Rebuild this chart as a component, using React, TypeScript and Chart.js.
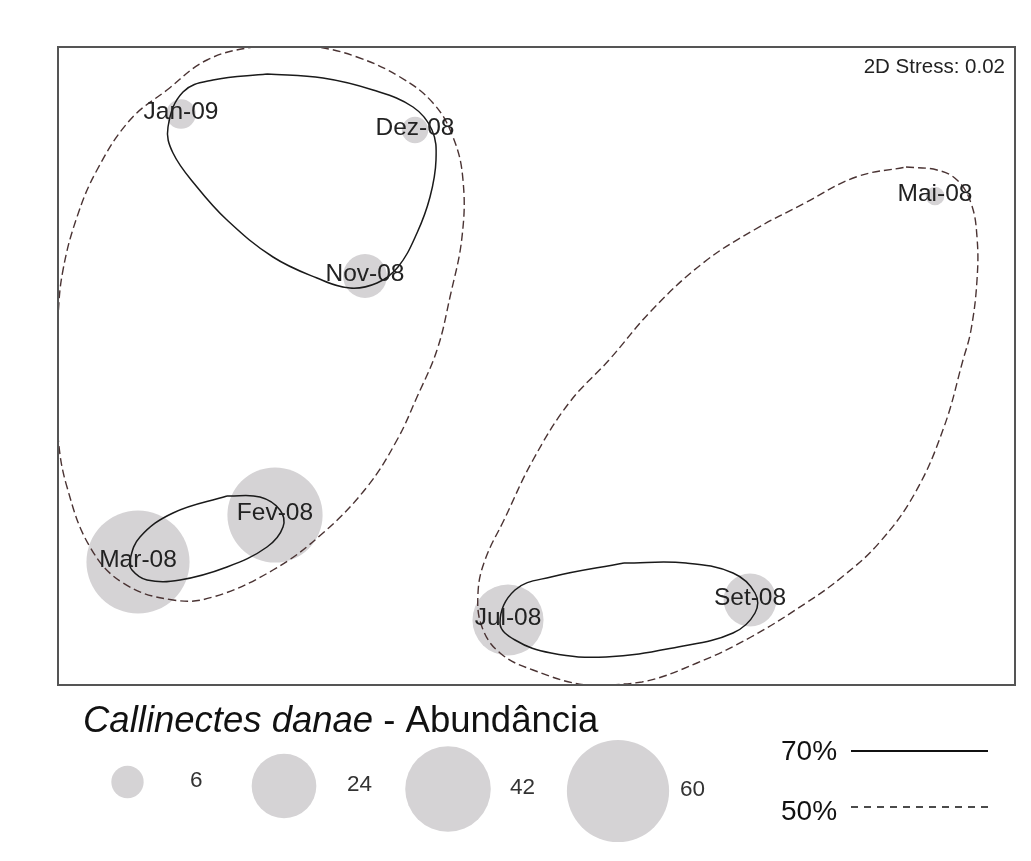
import React, { useEffect, useRef } from "react";
import { Chart, registerables } from "chart.js";

Chart.register(...registerables);

// ---- Data (MDS ordination, arbitrary units) ----
const samples = ["Jan-09", "Dez-08", "Nov-08", "Mai-08", "Fev-08", "Mar-08", "Jul-08", "Set-08"];
const mdsX = [123, 357, 307, 877, 217, 80, 450, 692];
const mdsY = [67, 83, 229, 149, 468, 515, 573, 553];
const abundance = [5, 4, 11, 2, 52, 61, 29, 16];

const legendValues = [6, 24, 42, 60];
const stressText = "2D Stress: 0.02";

// Similarity contours (70% solid, 50% dashed), traced points
const contour70_winter: number[][] = [
  [209, 27], [265, 31], [315, 43], [355, 60], [374, 83], [378, 113], [372, 150], [359, 186],
  [340, 220], [319, 236], [292, 241], [259, 231], [215, 210], [169, 173], [139, 140], [115, 106],
  [110, 80], [125, 45], [155, 33], [209, 27],
];
const contour70_summer: number[][] = [
  [169, 449], [202, 450], [222, 463], [225, 480], [209, 500], [169, 520], [122, 533], [89, 533],
  [74, 523], [72, 513], [82, 490], [115, 466], [169, 449],
];
const contour70_autumn: number[][] = [
  [566, 516], [628, 516], [675, 526], [697, 546], [697, 566], [675, 586], [620, 600], [548, 610],
  [493, 606], [457, 593], [442, 576], [457, 543], [493, 530], [566, 516],
];
const contour50_left: number[][] = [
  [227, -1], [259, 0], [299, 10], [342, 30], [375, 56], [395, 90], [405, 133], [404, 190],
  [392, 250], [379, 303], [359, 350], [339, 393], [309, 440], [265, 486], [215, 523], [155, 550],
  [115, 553], [65, 536], [32, 500], [9, 440], [0, 390], [-2, 333], [0, 270], [5, 223], [19, 170],
  [39, 123], [72, 73], [109, 43], [149, 13], [195, 0], [227, -1],
];
const contour50_right: number[][] = [
  [848, 120], [879, 123], [899, 133], [913, 156], [919, 190], [919, 233], [913, 283], [905, 313],
  [886, 380], [857, 446], [821, 496], [784, 530], [748, 556], [693, 590], [639, 616], [584, 635],
  [529, 638], [475, 623], [442, 606], [424, 580], [420, 546], [427, 513], [446, 473], [475, 413],
  [511, 356], [551, 313], [594, 263], [645, 216], [696, 183], [747, 156], [798, 130], [848, 120],
];

const FONT = '"Liberation Sans", Arial, Helvetica, sans-serif';
const BUBBLE = "#d5d3d5";
const radiusFor = (v: number) => 6.6 * Math.sqrt(v);

const toPts = (c: number[][]) => c.map(([x, y]) => ({ x, y }));

const decorPlugin = {
  id: "decor",
  afterDatasetsDraw(chart: any) {
    const { ctx, chartArea: a, scales } = chart;
    const xs = scales.x;
    const ys = scales.y;
    ctx.save();

    // sample labels
    ctx.font = `24.5px ${FONT}`;
    ctx.fillStyle = "#222";
    ctx.textAlign = "center";
    ctx.textBaseline = "middle";
    samples.forEach((s, i) => {
      ctx.fillText(s, xs.getPixelForValue(mdsX[i]), ys.getPixelForValue(mdsY[i]) - 2);
    });

    // frame
    ctx.strokeStyle = "#555";
    ctx.lineWidth = 2;
    ctx.strokeRect(a.left, a.top, a.right - a.left, a.bottom - a.top);

    // stress
    ctx.font = `20.5px ${FONT}`;
    ctx.fillStyle = "#222";
    ctx.textAlign = "right";
    ctx.textBaseline = "alphabetic";
    ctx.fillText(stressText, a.right - 10, a.top + 26);

    // legend title
    ctx.textAlign = "left";
    ctx.fillStyle = "#111";
    ctx.font = `italic 36.5px ${FONT}`;
    const tx = 83;
    const ty = 732;
    const part1 = "Callinectes danae";
    ctx.fillText(part1, tx, ty);
    const w1 = ctx.measureText(part1).width;
    ctx.font = `36.5px ${FONT}`;
    ctx.fillText(" - Abundância", tx + w1, ty);

    // legend bubbles
    const bx = [127.5, 284, 448, 618];
    const by = [782, 786, 789, 791];
    const lx = [190, 347, 510, 680];
    ctx.font = `22.5px ${FONT}`;
    ctx.textBaseline = "middle";
    legendValues.forEach((v, i) => {
      ctx.fillStyle = BUBBLE;
      ctx.beginPath();
      ctx.arc(bx[i], by[i], radiusFor(v), 0, Math.PI * 2);
      ctx.fill();
      ctx.fillStyle = "#333";
      ctx.fillText(String(v), lx[i], by[i] - 1);
    });

    // contour legend
    ctx.fillStyle = "#111";
    ctx.font = `28px ${FONT}`;
    ctx.textBaseline = "alphabetic";
    ctx.fillText("70%", 781, 760);
    ctx.fillText("50%", 781, 820);
    ctx.strokeStyle = "#111";
    ctx.lineWidth = 2;
    ctx.setLineDash([]);
    ctx.beginPath();
    ctx.moveTo(851, 751);
    ctx.lineTo(988, 751);
    ctx.stroke();
    ctx.lineWidth = 1.5;
    ctx.setLineDash([7, 6]);
    ctx.beginPath();
    ctx.moveTo(851, 807);
    ctx.lineTo(988, 807);
    ctx.stroke();

    ctx.restore();
  },
};

export default function App() {
  const ref = useRef<HTMLCanvasElement | null>(null);

  useEffect(() => {
    document.body.style.margin = "0";
    document.body.style.overflow = "hidden";
    document.body.style.background = "#fff";
    if (!ref.current) return;

    const solid = (c: number[][]) => ({
      type: "line" as const,
      data: toPts(c),
      borderColor: "#1a1a1a",
      borderWidth: 1.5,
      pointRadius: 0,
      tension: 0.4,
      fill: false,
      order: 1,
    });
    const dashed = (c: number[][]) => ({
      type: "line" as const,
      data: toPts(c),
      borderColor: "#4a3333",
      borderWidth: 1.4,
      borderDash: [8, 4],
      pointRadius: 0,
      tension: 0.4,
      fill: false,
      order: 1,
    });

    const chart = new Chart(ref.current, {
      type: "bubble",
      data: {
        datasets: [
          {
            type: "bubble",
            data: samples.map((_, i) => ({ x: mdsX[i], y: mdsY[i], r: radiusFor(abundance[i]) })),
            backgroundColor: BUBBLE,
            borderWidth: 0,
            order: 2,
          } as any,
          solid(contour70_winter),
          solid(contour70_summer),
          solid(contour70_autumn),
          dashed(contour50_left),
          dashed(contour50_right),
        ],
      },
      options: {
        responsive: false,
        animation: false,
        devicePixelRatio: 1,
        layout: { autoPadding: false, padding: { left: 58, top: 47, right: 16, bottom: 176 } },
        scales: {
          x: { type: "linear", min: 0, max: 957, display: false },
          y: { type: "linear", min: 0, max: 638, reverse: true, display: false },
        },
        plugins: {
          legend: { display: false },
          tooltip: { enabled: false },
        },
      } as any,
      plugins: [decorPlugin],
    });

    return () => chart.destroy();
  }, []);

  return (
    <div style={{ width: 1031, height: 861, background: "#fff" }}>
      <canvas ref={ref} width={1031} height={861} style={{ display: "block" }} />
    </div>
  );
}
